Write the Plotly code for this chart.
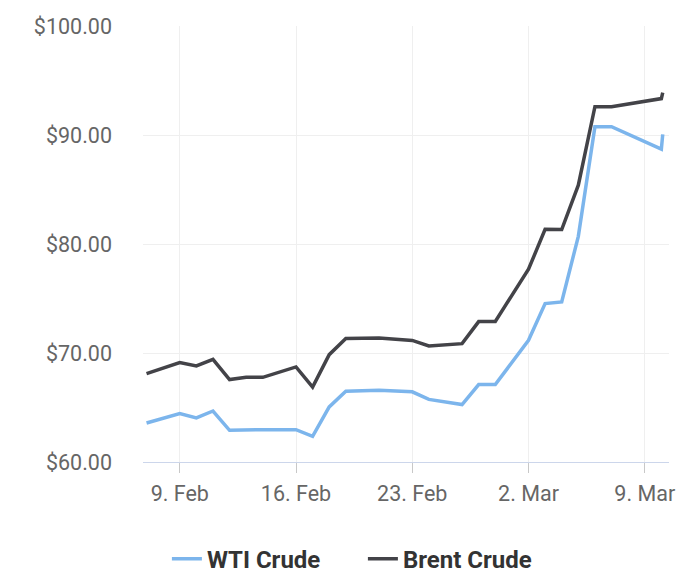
import plotly.graph_objects as go

dates = ["2026-02-07", "2026-02-09", "2026-02-10", "2026-02-11", "2026-02-12",
         "2026-02-13", "2026-02-14", "2026-02-16", "2026-02-17", "2026-02-18",
         "2026-02-19", "2026-02-21", "2026-02-23", "2026-02-24", "2026-02-26",
         "2026-02-27", "2026-02-28", "2026-03-02", "2026-03-03", "2026-03-04",
         "2026-03-05", "2026-03-06", "2026-03-07", "2026-03-10", "2026-03-10 02:00"]
wti = [63.58, 64.44, 64.04, 64.68, 62.91,
       62.97, 62.97, 62.97, 62.35, 65.05,
       66.50, 66.58, 66.44, 65.74, 65.27,
       67.10, 67.10, 71.17, 74.53, 74.68,
       80.70, 90.76, 90.76, 88.70, 90.06]
brent = [68.11, 69.12, 68.81, 69.42, 67.56,
         67.77, 67.77, 68.72, 66.88, 69.85,
         71.32, 71.38, 71.15, 70.64, 70.86,
         72.88, 72.90, 77.68, 81.35, 81.33,
         85.40, 92.60, 92.60, 93.34, 93.89]
series_names = ["WTI Crude", "Brent Crude"]

FONT = "Roboto"

fig = go.Figure()
fig.add_trace(go.Scatter(x=dates, y=wti, mode="lines", name=series_names[0],
                         line=dict(color="#7cb5ec", width=3.5)))
fig.add_trace(go.Scatter(x=dates, y=brent, mode="lines", name=series_names[1],
                         line=dict(color="#434348", width=3.5)))

fig.update_layout(
    width=700, height=582,
    margin=dict(l=135, r=39, t=18, b=128, autoexpand=False),
    paper_bgcolor="white", plot_bgcolor="white",
    font=dict(family=FONT, size=21.5, color="#666666"),
    showlegend=True,
    legend=dict(orientation="h", xref="container", x=0.507, xanchor="center",
                yref="container", y=0.053, yanchor="middle",
                font=dict(family=FONT, size=24, color="#333333", weight="bold"),
                itemwidth=30, entrywidth=151, tracegroupgap=0),
    xaxis=dict(
        type="date", automargin=False,
        range=["2026-02-06 18:53", "2026-03-10 11:03"],
        tick0="2026-02-09", dtick=7 * 24 * 3600 * 1000,
        tickformat="%-d. %b",
        showgrid=True, gridcolor="#efefef", gridwidth=1,
        showline=True, linecolor="#ccd6eb", linewidth=1,
        ticks="outside", ticklen=10, tickcolor="#c8c8c8", tickwidth=1,
        ticklabelstandoff=2,
        tickfont=dict(family=FONT, size=21.5, color="#666666"),
        zeroline=False,
    ),
    yaxis=dict(
        automargin=False,
        range=[60, 100], dtick=10,
        tickprefix="$", tickformat=".2f",
        showgrid=True, gridcolor="#efefef", gridwidth=1,
        showline=False, zeroline=False,
        ticks="", ticklabelstandoff=30,
        tickfont=dict(family=FONT, size=21.5, color="#666666"),
    ),
)

fig.write_html("out.html")
